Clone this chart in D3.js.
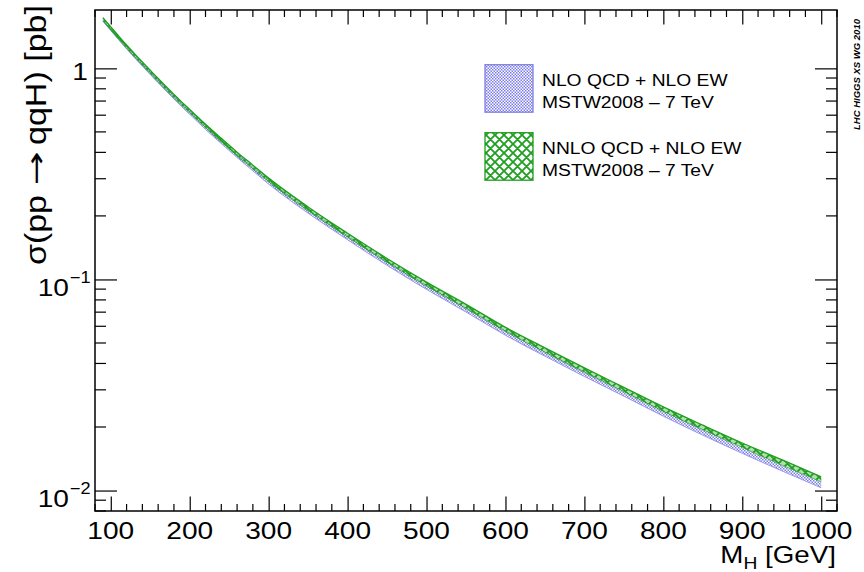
<!DOCTYPE html>
<html>
<head>
<meta charset="utf-8">
<script src="https://cdn.jsdelivr.net/npm/d3@7"></script>
<style>
  html, body { margin: 0; padding: 0; background: #fff; }
  svg { display: block; }
  text { font-family: "Liberation Sans", Arial, Helvetica, sans-serif; fill: #000; }
</style>
</head>
<body>
<svg id="chart" width="864" height="572"></svg>
<script>
// ---------------- data ----------------
const massGeV = [90,100,110,120,130,140,150,160,170,180,190,200,220,240,260,280,300,350,400,450,500,550,600,650,700,750,800,850,900,950,1000];

// NLO QCD + NLO EW band (blue)
const nloLow  = [1.672,1.510,1.365,1.237,1.124,1.024,0.935,0.854,0.781,0.716,0.657,0.606,0.514,0.440,0.378,0.327,0.283,0.206,0.1541,0.1166,0.0897,0.0701,0.0544,0.0433,0.0347,0.0280,0.0225,0.0183,0.0150,0.0124,0.0103];
const nloHigh = [1.738,1.570,1.419,1.287,1.170,1.066,0.975,0.890,0.815,0.748,0.687,0.634,0.538,0.460,0.396,0.343,0.297,0.216,0.1619,0.1226,0.0945,0.0739,0.0574,0.0457,0.0367,0.0296,0.0239,0.0195,0.0160,0.0132,0.0110];

// NNLO QCD + NLO EW band (green)
const nnloLow  = [1.680,1.518,1.373,1.246,1.133,1.033,0.944,0.862,0.790,0.725,0.666,0.615,0.523,0.448,0.385,0.334,0.290,0.2115,0.1586,0.1204,0.0929,0.0728,0.0567,0.0452,0.0363,0.0294,0.0237,0.0194,0.0160,0.0132,0.0110];
const nnloHigh = [1.740,1.572,1.422,1.291,1.174,1.071,0.979,0.895,0.820,0.753,0.692,0.639,0.543,0.466,0.401,0.348,0.302,0.2205,0.1655,0.1257,0.0971,0.0762,0.0593,0.0474,0.0381,0.0308,0.0249,0.0204,0.0168,0.0140,0.0116];

const xTickValues = [100,200,300,400,500,600,700,800,900,1000];
const yTickValues = [0.01, 0.1, 1];
const yTickBase   = ["10", "10", "1"];
const yTickExp    = ["\u22122", "\u22121", ""];

const legendLabels = [
  ["NLO QCD + NLO EW", "MSTW2008 \u2013 7 TeV"],
  ["NNLO QCD + NLO EW", "MSTW2008 \u2013 7 TeV"]
];

// ---------------- layout ----------------
const plot = { left: 95, right: 837, top: 10, bottom: 511 };
const SX = 1.133; // horizontal stretch of the original text

const svg = d3.select("#chart");

const x = d3.scaleLinear().domain([80, 1020]).range([plot.left, plot.right]);
const y = d3.scaleLog().domain([0.0080, 1.89]).range([plot.bottom, plot.top]);

// ---------------- patterns ----------------
const defs = svg.append("defs");
const blueCol = "#7c7ce4";
const greenCol = "#1f9f1f";

const pb = defs.append("pattern").attr("id", "bluePat")
  .attr("patternUnits", "userSpaceOnUse").attr("width", 3).attr("height", 3);
pb.append("rect").attr("width", 3).attr("height", 3).attr("fill", "#ffffff");
pb.append("rect").attr("x", 0).attr("y", 0).attr("width", 1.5).attr("height", 1.5).attr("fill", blueCol);
pb.append("rect").attr("x", 1.5).attr("y", 1.5).attr("width", 1.5).attr("height", 1.5).attr("fill", blueCol);

const T = 9;
const pg = defs.append("pattern").attr("id", "greenPat")
  .attr("patternUnits", "userSpaceOnUse").attr("width", T).attr("height", T);
pg.append("path")
  .attr("d", `M-2,2 L2,-2 M0,${T} L${T},0 M${T-2},${T+2} L${T+2},${T-2} M-2,${T-2} L2,${T+2} M0,0 L${T},${T} M${T-2},-2 L${T+2},2`)
  .attr("stroke", greenCol).attr("stroke-width", 1.8).attr("fill", "none");

defs.append("clipPath").attr("id", "plotClip").append("rect")
  .attr("x", plot.left).attr("y", plot.top)
  .attr("width", plot.right - plot.left).attr("height", plot.bottom - plot.top);

// ---------------- bands ----------------
const nloData = massGeV.map((m, i) => ({ m, lo: nloLow[i], hi: nloHigh[i] }));
const nnloData = massGeV.map((m, i) => ({ m, lo: nnloLow[i], hi: nnloHigh[i] }));

const area = d3.area().x(d => x(d.m)).y0(d => y(d.lo)).y1(d => y(d.hi)).curve(d3.curveMonotoneX);
const lineLo = d3.line().x(d => x(d.m)).y(d => y(d.lo)).curve(d3.curveMonotoneX);
const lineHi = d3.line().x(d => x(d.m)).y(d => y(d.hi)).curve(d3.curveMonotoneX);

const gBands = svg.append("g").attr("clip-path", "url(#plotClip)");
gBands.append("path").datum(nloData).attr("d", area).attr("fill", "url(#bluePat)");
gBands.append("path").datum(nloData).attr("d", lineLo).attr("fill", "none").attr("stroke", "#9a9aea").attr("stroke-width", 1);

gBands.append("path").datum(nnloData).attr("d", area).attr("fill", greenCol).attr("fill-opacity", 0.35);
gBands.append("path").datum(nnloData).attr("d", area).attr("fill", "url(#greenPat)");
gBands.append("path").datum(nnloData).attr("d", lineHi).attr("fill", "none").attr("stroke", greenCol).attr("stroke-width", 1.3);
gBands.append("path").datum(nnloData).attr("d", lineLo).attr("fill", "none").attr("stroke", greenCol).attr("stroke-width", 0.8).attr("stroke-opacity", 0.7);

// ---------------- axes / ticks ----------------
const gAx = svg.append("g").attr("stroke", "#000").attr("stroke-width", 1.2);

const xMinor = d3.range(80, 1021, 20).filter(v => v % 100 !== 0);
const xMajLen = 14.5, xMinLen = 7;
const yMajLen = 22, yMinLen = 11;

const styleAxis = g => {
  g.select(".domain").remove();
  g.selectAll("line").attr("stroke", "#000").attr("stroke-width", 1.2);
};
svg.append("g").attr("transform", `translate(0,${plot.bottom})`)
  .call(d3.axisBottom(x).tickValues(xTickValues).tickSize(-xMajLen).tickFormat("")).call(styleAxis);
svg.append("g").attr("transform", `translate(0,${plot.top})`)
  .call(d3.axisTop(x).tickValues(xTickValues).tickSize(-xMajLen).tickFormat("")).call(styleAxis);

xMinor.forEach(v => {
  gAx.append("line").attr("x1", x(v)).attr("x2", x(v)).attr("y1", plot.bottom).attr("y2", plot.bottom - xMinLen);
  gAx.append("line").attr("x1", x(v)).attr("x2", x(v)).attr("y1", plot.top).attr("y2", plot.top + xMinLen);
});

svg.append("g").attr("transform", `translate(${plot.left},0)`)
  .call(d3.axisLeft(y).tickValues(yTickValues).tickSize(-yMajLen).tickFormat("")).call(styleAxis);
svg.append("g").attr("transform", `translate(${plot.right},0)`)
  .call(d3.axisRight(y).tickValues(yTickValues).tickSize(-yMajLen).tickFormat("")).call(styleAxis);

const [yLo, yHi] = y.domain();
for (let e = -3; e <= 0; e++) {
  for (let k = 2; k <= 9; k++) {
    const v = k * Math.pow(10, e);
    if (v < yLo || v > yHi) continue;
    gAx.append("line").attr("x1", plot.left).attr("x2", plot.left + yMinLen).attr("y1", y(v)).attr("y2", y(v));
    gAx.append("line").attr("x1", plot.right).attr("x2", plot.right - yMinLen).attr("y1", y(v)).attr("y2", y(v));
  }
}

svg.append("rect").attr("x", plot.left).attr("y", plot.top)
  .attr("width", plot.right - plot.left).attr("height", plot.bottom - plot.top)
  .attr("fill", "none").attr("stroke", "#000").attr("stroke-width", 1.5);

// ---------------- tick labels ----------------
const labFont = 24.8;
xTickValues.forEach(v => {
  svg.append("text")
    .attr("transform", `translate(${x(v)},539) scale(${SX},1)`)
    .attr("text-anchor", "middle")
    .attr("font-size", labFont)
    .text(v);
});

yTickValues.forEach((v, i) => {
  const ty = y(v);
  if (yTickExp[i] === "") {
    svg.append("text")
      .attr("transform", `translate(88,${ty + 12}) scale(${SX},1)`)
      .attr("text-anchor", "end")
      .attr("font-size", labFont)
      .text(yTickBase[i]);
  } else {
    svg.append("text")
      .attr("transform", `translate(90.5,${ty + 3.3}) scale(${SX},1)`)
      .attr("text-anchor", "end")
      .attr("font-size", 16)
      .text(yTickExp[i]);
    svg.append("text")
      .attr("transform", `translate(69,${ty + 16.6}) scale(${SX},1)`)
      .attr("text-anchor", "end")
      .attr("font-size", labFont)
      .text(yTickBase[i]);
  }
});

// ---------------- axis titles ----------------
const xt = svg.append("text")
  .attr("transform", `translate(836,563) scale(${SX},1)`)
  .attr("text-anchor", "end")
  .attr("font-size", 24.5);
xt.append("tspan").text("M");
xt.append("tspan").attr("font-size", 17).attr("dy", 6).text("H");
xt.append("tspan").attr("dy", -6).text(" [GeV]");

// y title in three pieces (long arrow as in the original)
const yTitleParts = [
  { t: "\u03c3(pp", y0: 265, len: 70, font: null },
  { t: "\u2192", y0: 185, len: 34, font: "DejaVu Sans" },
  { t: "qqH) [pb]", y0: 145, len: 140, font: null }
];
yTitleParts.forEach(p => {
  const t = svg.append("text")
    .attr("transform", `translate(46,${p.y0}) rotate(-90)`)
    .attr("font-size", p.font ? 27 : 30)
    .attr("textLength", p.len)
    .attr("lengthAdjust", "spacingAndGlyphs")
    .text(p.t);
  if (p.font) t.style("font-family", p.font).attr("dy", -1);
});

// ---------------- watermark ----------------
svg.append("text")
  .attr("transform", `translate(860,130) rotate(-90)`)
  .attr("font-size", 9.5)
  .attr("font-weight", "bold")
  .attr("font-style", "italic")
  .attr("textLength", 111)
  .attr("lengthAdjust", "spacingAndGlyphs")
  .text("LHC HIGGS XS WG 2010");

// ---------------- legend ----------------
const legBoxes = [
  { y: 64.7, fill: "url(#bluePat)", stroke: "#8080e2" },
  { y: 132.7, fill: "url(#greenPat)", stroke: greenCol }
];
const legFont = 17;
legBoxes.forEach((b, i) => {
  svg.append("rect").attr("x", 485).attr("y", b.y).attr("width", 48).attr("height", 47.5)
    .attr("fill", "#fff");
  svg.append("rect").attr("x", 485).attr("y", b.y).attr("width", 48).attr("height", 47.5)
    .attr("fill", b.fill).attr("stroke", b.stroke).attr("stroke-width", 1.3);
  legendLabels[i].forEach((t, j) => {
    svg.append("text")
      .attr("transform", `translate(542,${b.y + 21.3 + j * 22.3}) scale(${SX},1)`)
      .attr("font-size", legFont)
      .text(t);
  });
});
</script>
</body>
</html>
